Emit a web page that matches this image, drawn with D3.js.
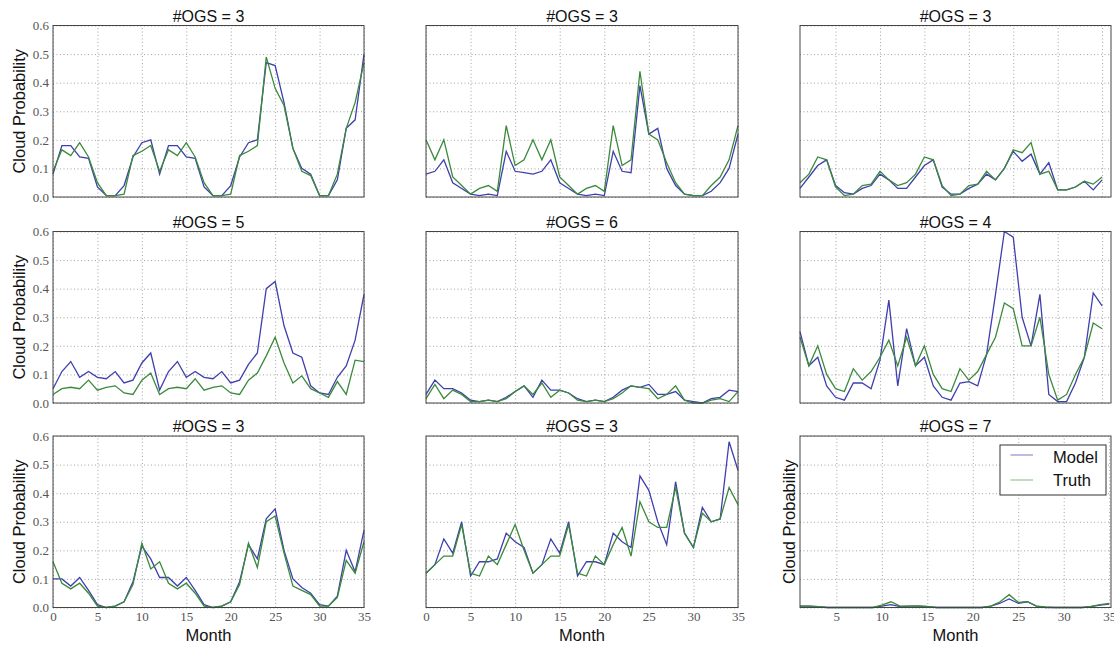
<!DOCTYPE html>
<html lang="en">
<head>
<meta charset="UTF-8">
<title>Cloud probability per OGS</title>
<script src="https://d3js.org/d3.v7.min.js"></script>
<style>
  body { margin: 0; background: #fff; }
  .grid line { stroke: #8c8c8c; stroke-dasharray: 1,2.5; stroke-width: 0.8; }
  .grid path { display: none; }
  .ticklab text { font-family: "Liberation Serif", serif; font-size: 13px; fill: #555; }
  .ticklab path, .ticklab line { display: none; }
  .title { font-family: "Liberation Sans", Arial, sans-serif; font-size: 16px; fill: #111; }
  .axlabel { font-family: "Liberation Sans", Arial, sans-serif; font-size: 16.5px; fill: #111; }
  .legend text { font-family: "Liberation Sans", Arial, sans-serif; font-size: 16.5px; fill: #111; }
</style>
</head>
<body>
<svg></svg>
<script>
// months on the x axis; the right-hand column starts at month 1
var months = [0,1,2,3,4,5,6,7,8,9,10,11,12,13,14,15,16,17,18,19,20,21,22,23,24,25,26,27,28,29,30,31,32,33,34,35];
var monthsFrom1 = months.slice(1);

var ogsCounts = [3, 3, 3, 5, 6, 4, 3, 3, 7];
var seriesNames = ["Model", "Truth"];
var yTicks = [0, 0.1, 0.2, 0.3, 0.4, 0.5, 0.6];

// values, row by row
var model1 = [0.08,0.18,0.18,0.14,0.135,0.035,0.005,0.005,0.04,0.14,0.19,0.2, 0.08,0.18,0.18,0.14,0.135,0.035,0.005,0.005,0.04,0.14,0.19,0.2, 0.47,0.46,0.33,0.17,0.1,0.08,0.005,0.005,0.06,0.24,0.27,0.5];
var truth1 = [0.09,0.165,0.145,0.19,0.14,0.05,0.005,0.005,0.01,0.145,0.16,0.18, 0.09,0.165,0.145,0.19,0.14,0.05,0.005,0.005,0.01,0.145,0.16,0.18, 0.49,0.38,0.32,0.17,0.09,0.075,0.005,0.005,0.08,0.24,0.33,0.47];

var model2 = [0.08,0.09,0.13,0.05,0.03,0.01,0.005,0.01,0.005,0.16,0.09,0.085, 0.08,0.09,0.13,0.05,0.03,0.01,0.005,0.01,0.005,0.16,0.09,0.085, 0.39,0.22,0.24,0.1,0.04,0.01,0.005,0.005,0.02,0.05,0.1,0.22];
var truth2 = [0.2,0.13,0.2,0.07,0.04,0.01,0.03,0.04,0.02,0.25,0.11,0.13, 0.2,0.13,0.2,0.07,0.04,0.01,0.03,0.04,0.02,0.25,0.11,0.13, 0.44,0.22,0.2,0.12,0.05,0.01,0.005,0.005,0.04,0.07,0.13,0.25];

var model3 = [0.03,0.07,0.11,0.13,0.04,0.015,0.01,0.03,0.04,0.08,0.06,0.03, 0.03,0.07,0.11,0.13,0.035,0.01,0.01,0.03,0.045,0.08,0.06,0.1, 0.16,0.125,0.15,0.08,0.12,0.025,0.025,0.035,0.055,0.025,0.06];
var truth3 = [0.05,0.08,0.14,0.13,0.035,0.005,0.01,0.04,0.045,0.09,0.06,0.04, 0.05,0.08,0.14,0.13,0.04,0.005,0.01,0.04,0.045,0.09,0.06,0.1, 0.165,0.155,0.19,0.08,0.09,0.025,0.025,0.035,0.055,0.045,0.07];

var model4 = [0.05,0.11,0.145,0.09,0.11,0.09,0.085,0.11,0.07,0.08,0.14,0.175, 0.045,0.11,0.145,0.09,0.11,0.09,0.085,0.11,0.07,0.08,0.135,0.175, 0.4,0.425,0.27,0.175,0.16,0.06,0.035,0.03,0.09,0.13,0.22,0.38];
var truth4 = [0.03,0.05,0.055,0.05,0.08,0.045,0.055,0.06,0.035,0.03,0.08,0.105, 0.03,0.05,0.055,0.05,0.085,0.045,0.055,0.06,0.035,0.03,0.08,0.105, 0.165,0.23,0.14,0.07,0.095,0.05,0.035,0.02,0.075,0.03,0.15,0.145];

var model5 = [0.03,0.08,0.05,0.05,0.035,0.01,0.005,0.01,0.005,0.02,0.04,0.06, 0.02,0.08,0.045,0.045,0.035,0.015,0.005,0.01,0.005,0.02,0.045,0.06, 0.055,0.065,0.03,0.03,0.04,0.01,0.005,0,0.015,0.02,0.045,0.04];
var truth5 = [0.015,0.065,0.015,0.045,0.03,0.005,0.005,0.01,0.005,0.015,0.04,0.06, 0.03,0.07,0.02,0.045,0.035,0.01,0.005,0.01,0.005,0.015,0.035,0.06, 0.055,0.05,0.015,0.03,0.06,0.01,0,0,0.01,0.015,0.005,0.04];

var model6 = [0.25,0.13,0.16,0.06,0.02,0.01,0.07,0.07,0.05,0.15,0.36,0.06, 0.26,0.13,0.16,0.06,0.02,0.01,0.07,0.075,0.06,0.17,0.38,0.6, 0.58,0.3,0.2,0.38,0.03,0.005,0.005,0.07,0.16,0.385,0.34];
var truth6 = [0.23,0.13,0.2,0.1,0.05,0.04,0.12,0.08,0.11,0.16,0.22,0.13, 0.23,0.13,0.2,0.1,0.05,0.04,0.12,0.08,0.11,0.17,0.23,0.35, 0.33,0.2,0.2,0.3,0.1,0.01,0.03,0.1,0.16,0.28,0.26];

var model7 = [0.1,0.1,0.075,0.105,0.06,0.01,0,0.005,0.02,0.09,0.215,0.17, 0.105,0.105,0.075,0.105,0.06,0.01,0,0.005,0.02,0.09,0.22,0.17, 0.31,0.345,0.2,0.1,0.07,0.05,0.01,0.005,0.04,0.2,0.125,0.27];
var truth7 = [0.16,0.085,0.065,0.085,0.05,0.005,0,0.005,0.02,0.08,0.225,0.135, 0.16,0.085,0.065,0.085,0.05,0.005,0,0.005,0.02,0.08,0.225,0.14, 0.3,0.32,0.19,0.075,0.06,0.045,0.005,0.005,0.035,0.165,0.12,0.23];

var model8 = [0.12,0.15,0.24,0.19,0.3,0.11,0.16,0.16,0.17,0.26,0.23,0.21, 0.12,0.15,0.24,0.19,0.3,0.11,0.16,0.16,0.15,0.26,0.23,0.21, 0.46,0.41,0.3,0.22,0.44,0.26,0.21,0.35,0.3,0.31,0.58,0.48];
var truth8 = [0.12,0.15,0.18,0.18,0.29,0.12,0.11,0.18,0.15,0.22,0.29,0.2, 0.12,0.15,0.18,0.18,0.29,0.12,0.11,0.18,0.15,0.22,0.28,0.18, 0.37,0.3,0.28,0.28,0.42,0.26,0.21,0.33,0.3,0.31,0.42,0.36];

var model9 = [0.005,0.005,0.003,0,0,0,0,0,0,0.005,0.01,0.003, 0.005,0.005,0.003,0,0,0,0,0,0,0.005,0.015,0.03, 0.015,0.02,0.005,0,0,0,0,0,0.003,0.008,0.012];
var truth9 = [0.005,0.005,0.003,0,0,0,0,0,0,0.008,0.02,0.005, 0.005,0.006,0.004,0,0,0,0,0,0,0.005,0.02,0.045, 0.018,0.02,0.005,0.002,0,0,0,0,0.004,0.01,0.014];

var models = [model1, model2, model3, model4, model5, model6, model7, model8, model9];
var truths = [truth1, truth2, truth3, truth4, truth5, truth6, truth7, truth8, truth9];

var W = 1114, H = 645;
var colLeft = [53, 426, 800];
var colWidth = [311, 312, 311];
var rowTop = [25.5, 231.5, 436];
var panelH = 171.5;
var colors = { Model: "#3f3fae", Truth: "#3b8a3b" };
var legendColors = { Model: "#8e8ed2", Truth: "#97c697" };

var svg = d3.select("svg").attr("width", W).attr("height", H);
svg.append("rect").attr("width", W).attr("height", H).attr("fill", "#fff");

ogsCounts.forEach(function(ogs, i) {
    var row = Math.floor(i / 3), col = i % 3;
    var left = colLeft[col], top = rowTop[row], w = colWidth[col], h = panelH;
    var xs = col === 2 ? monthsFrom1 : months;
    var xDom = col === 2 ? (row === 2 ? [1, 35.2] : [1, 36]) : [0, 35];
    var xTicks = col === 2 ? [5, 10, 15, 20, 25, 30, 35] : [0, 5, 10, 15, 20, 25, 30, 35];

    var x = d3.scaleLinear().domain(xDom).range([0, w]);
    var y = d3.scaleLinear().domain([0, 0.6]).range([h, 0]);

    var g = svg.append("g").attr("transform", "translate(" + left + "," + top + ")");

    // dotted grid
    g.append("g").attr("class", "grid")
        .attr("transform", "translate(0," + h + ")")
        .call(d3.axisBottom(x).tickValues(xTicks).tickSize(-h).tickFormat(""));
    g.append("g").attr("class", "grid")
        .call(d3.axisLeft(y).tickValues(yTicks).tickSize(-w).tickFormat(""));

    // tick labels
    if (col === 0) {
        g.append("g").attr("class", "ticklab")
            .call(d3.axisLeft(y).tickValues(yTicks).tickSize(0).tickPadding(4).tickFormat(d3.format(".1f")));
    }
    if (row === 2) {
        g.append("g").attr("class", "ticklab")
            .attr("transform", "translate(0," + h + ")")
            .call(d3.axisBottom(x).tickValues(xTicks).tickSize(0).tickPadding(4).tickFormat(d3.format("d")));
        g.append("text").attr("class", "axlabel")
            .attr("x", w / 2).attr("y", h + 33.5)
            .attr("text-anchor", "middle").text("Month");
    }
    if (col === 0 || i === 8) {
        var lx = col === 0 ? 19 - left : 789 - left;
        g.append("text").attr("class", "axlabel")
            .attr("transform", "translate(" + lx + "," + (h / 2) + ") rotate(-90)")
            .attr("text-anchor", "middle").attr("dy", "0.35em")
            .text("Cloud Probability");
    }

    var line = d3.line()
        .x(function(d, k) { return x(xs[k]); })
        .y(function(d) { return y(d); });

    g.append("path").datum(models[i])
        .attr("fill", "none").attr("stroke", colors.Model).attr("stroke-width", 1.3)
        .attr("d", line);
    g.append("path").datum(truths[i])
        .attr("fill", "none").attr("stroke", colors.Truth).attr("stroke-width", 1.3)
        .attr("d", line);

    // frame
    g.append("rect").attr("width", w).attr("height", h)
        .attr("fill", "none").attr("stroke", "#444").attr("stroke-width", 1);

    g.append("text").attr("class", "title")
        .attr("x", w / 2).attr("y", -4)
        .attr("text-anchor", "middle").text("#OGS = " + ogs);

    if (i === 8) {
        var leg = g.append("g").attr("class", "legend")
            .attr("transform", "translate(" + (1000 - left) + "," + (445 - top) + ")");
        leg.append("rect").attr("width", 106).attr("height", 50)
            .attr("fill", "#fff").attr("stroke", "#333").attr("stroke-width", 1);
        seriesNames.forEach(function(name, k) {
            leg.append("line")
                .attr("x1", 10.5).attr("x2", 33).attr("y1", 10 + k * 25).attr("y2", 10 + k * 25)
                .attr("stroke", legendColors[name]).attr("stroke-width", 1.2);
            leg.append("text").attr("x", 53).attr("y", 17.5 + k * 23.5).text(name);
        });
    }
});
</script>
</body>
</html>
